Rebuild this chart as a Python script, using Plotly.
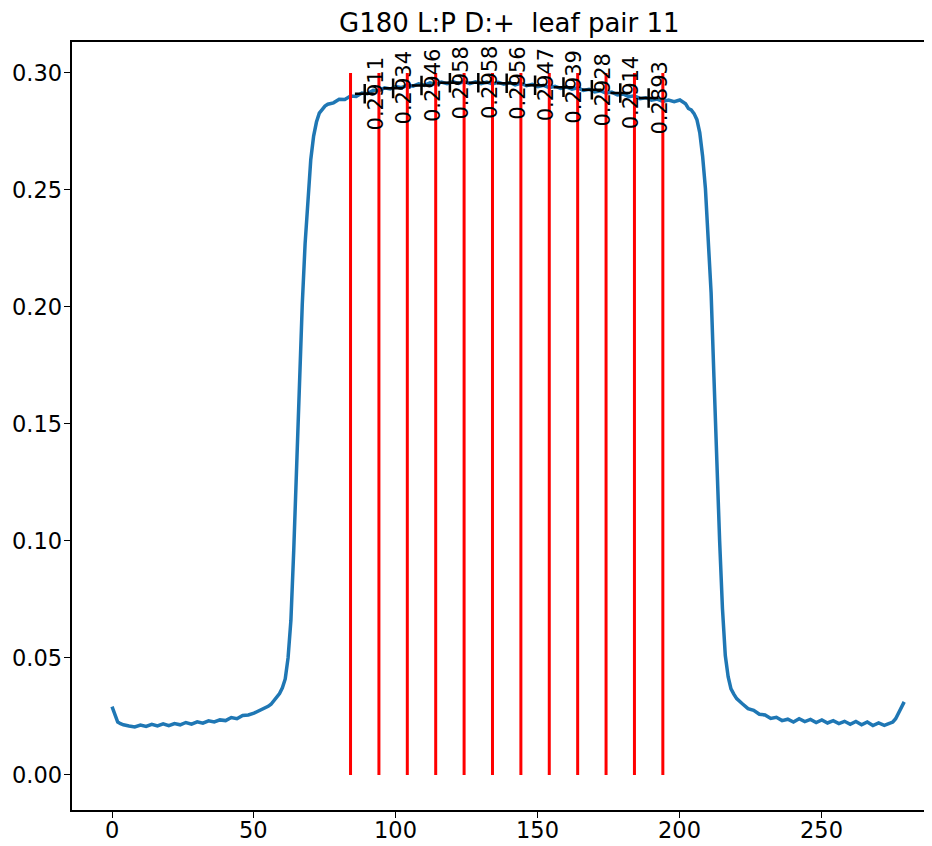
import plotly.graph_objects as go

# profile curve
profile_x = [0, 1, 2, 3, 4, 6, 8, 10, 12, 14, 16, 18, 20, 22, 24, 26, 28, 30, 32, 34, 36, 38,
             40, 42, 44, 46, 48, 50, 52, 54, 55, 56, 57, 58, 59, 60, 61, 62, 63, 64, 65, 66, 67,
             68, 69, 70, 71, 72, 73, 74, 75, 76, 78, 80, 82, 84, 86, 88, 90, 92, 94, 96, 98,
             100, 102, 104, 106, 108, 110, 112, 114, 116, 118, 120, 122, 124, 126, 128, 130,
             132, 134, 136, 138, 140, 142, 144, 146, 148, 150, 152, 154, 156, 158, 160, 162,
             164, 166, 168, 170, 172, 174, 176, 178, 180, 182, 184, 186, 188, 190, 192, 194,
             196, 198, 200, 201, 202, 203, 204, 205, 206, 207, 208, 209, 210, 211, 212, 213,
             214, 215, 216, 217, 218, 219, 220, 222, 224, 226, 228, 230, 232, 234, 236, 238,
             240, 242, 244, 246, 248, 250, 252, 254, 256, 258, 260, 262, 264, 266, 268, 270,
             272, 274, 275, 276, 277, 278, 279]
profile_y = [0.0292, 0.0255, 0.0226, 0.0219, 0.0214, 0.0209, 0.0205, 0.0213, 0.0207, 0.0216,
             0.0209, 0.0218, 0.0210, 0.0219, 0.0214, 0.0224, 0.0217, 0.0227, 0.0221, 0.0231,
             0.0226, 0.0235, 0.0232, 0.0245, 0.0240, 0.0254, 0.0256, 0.0264, 0.0275, 0.0287,
             0.0293, 0.0302, 0.0316, 0.0330, 0.0348, 0.0372, 0.0410, 0.0500, 0.0660, 0.0960,
             0.1330, 0.1690, 0.2010, 0.2270, 0.2480, 0.2630, 0.2730, 0.2790, 0.2828, 0.2846,
             0.2858, 0.2866, 0.2872, 0.2887, 0.2886, 0.2901, 0.2899, 0.2914, 0.2911, 0.2926,
             0.2924, 0.2936, 0.2931, 0.2942, 0.2937, 0.2948, 0.2943, 0.2953, 0.2947, 0.2958,
             0.2952, 0.2961, 0.2954, 0.2963, 0.2955, 0.2963, 0.2954, 0.2962, 0.2954, 0.2961,
             0.2953, 0.2960, 0.2952, 0.2959, 0.2949, 0.2955, 0.2945, 0.2951, 0.2941, 0.2947,
             0.2937, 0.2943, 0.2934, 0.2940, 0.2930, 0.2936, 0.2925, 0.2930, 0.2919, 0.2924,
             0.2913, 0.2918, 0.2906, 0.2910, 0.2898, 0.2902, 0.2890, 0.2894, 0.2883, 0.2888,
             0.2878, 0.2884, 0.2877, 0.2884, 0.2876, 0.2868, 0.2848, 0.2842, 0.2826, 0.2800,
             0.2745, 0.2645, 0.2505, 0.2300, 0.2060, 0.1700, 0.1320, 0.1000, 0.0710, 0.0510,
             0.0420, 0.0368, 0.0345, 0.0326, 0.0304, 0.0283, 0.0276, 0.0259, 0.0256, 0.0241,
             0.0246, 0.0232, 0.0238, 0.0226, 0.0240, 0.0228, 0.0237, 0.0224, 0.0235, 0.0222,
             0.0232, 0.0219, 0.0229, 0.0216, 0.0228, 0.0214, 0.0226, 0.0211, 0.0222, 0.0212,
             0.0221, 0.0226, 0.0240, 0.0262, 0.0290, 0.0312]

# leaf boundaries (red lines)
boundary_x = [84, 94, 104, 114, 124, 134, 144, 154, 164, 174, 184, 194]
boundary_top = 0.30

# segment means
mid_x = [89, 99, 109, 119, 129, 139, 149, 159, 169, 179, 189]
mean_vals = [0.2911, 0.2934, 0.2946, 0.2958, 0.2958, 0.2956, 0.2947, 0.2939, 0.2928, 0.2914, 0.2893]

title_text = "G180 L:P D:+\u00a0 leaf pair 11"
x_ticks = [0, 50, 100, 150, 200, 250]
y_ticks = [0.00, 0.05, 0.10, 0.15, 0.20, 0.25, 0.30]

FONT = "DejaVu Sans"
TICK_SIZE = 22.5

fig = go.Figure()
fig.add_trace(go.Scatter(x=profile_x, y=profile_y, mode="lines",
                         line=dict(color="#1f77b4", width=3.5), showlegend=False))
for bx in boundary_x:
    fig.add_trace(go.Scatter(x=[bx, bx], y=[0, boundary_top], mode="lines",
                             line=dict(color="#ff0000", width=3), showlegend=False))
fig.add_trace(go.Scatter(x=mid_x, y=mean_vals, mode="markers",
                         marker=dict(symbol="cross-thin", size=14,
                                     line=dict(color="black", width=2.5)),
                         showlegend=False))
for mx, mv in zip(mid_x, mean_vals):
    fig.add_annotation(x=mx, y=mv, text=f"{mv:.4f}", textangle=-90, showarrow=False,
                       xanchor="left", yanchor="middle", xshift=-3,
                       font=dict(family=FONT, size=21, color="black"))

fig.add_annotation(x=0.5087, y=1, xref="paper", yref="paper", text=title_text, showarrow=False,
                   xanchor="center", yanchor="bottom", yshift=3, borderpad=0,
                   font=dict(family=FONT, size=26, color="black"))

# tick labels placed as annotations to match spacing next to the axes
for t in x_ticks:
    fig.add_annotation(x=t, y=0, xref="x", yref="paper", text=str(t), showarrow=False,
                       xanchor="center", yanchor="top", yshift=-5,
                       font=dict(family=FONT, size=TICK_SIZE, color="black"))
for t in y_ticks:
    fig.add_annotation(x=0, y=t, xref="paper", yref="y", text=f"{t:.2f}", showarrow=False,
                       xanchor="right", yanchor="middle", xshift=-8,
                       font=dict(family=FONT, size=TICK_SIZE, color="black"))

# page body has an 8px margin, so the figure is sized to the remaining viewport
fig.update_layout(
    width=924, height=838,
    margin=dict(l=64, r=0, t=34, b=36),
    plot_bgcolor="white", paper_bgcolor="white",
    font=dict(family=FONT, size=TICK_SIZE, color="black"),
)
fig.update_xaxes(range=[-14.1, 288.8], tickvals=x_ticks, showticklabels=False, automargin=False,
                 showgrid=False, zeroline=False, showline=True, linecolor="black", linewidth=1.5,
                 mirror=True, ticks="outside", ticklen=6, tickwidth=1.4, tickcolor="black")
fig.update_yaxes(range=[-0.015, 0.3132], tickvals=y_ticks, showticklabels=False, automargin=False,
                 showgrid=False, zeroline=False, showline=True, linecolor="black", linewidth=1.5,
                 mirror=False, ticks="outside", ticklen=6, tickwidth=1.4, tickcolor="black")

fig.write_html("out.html")
